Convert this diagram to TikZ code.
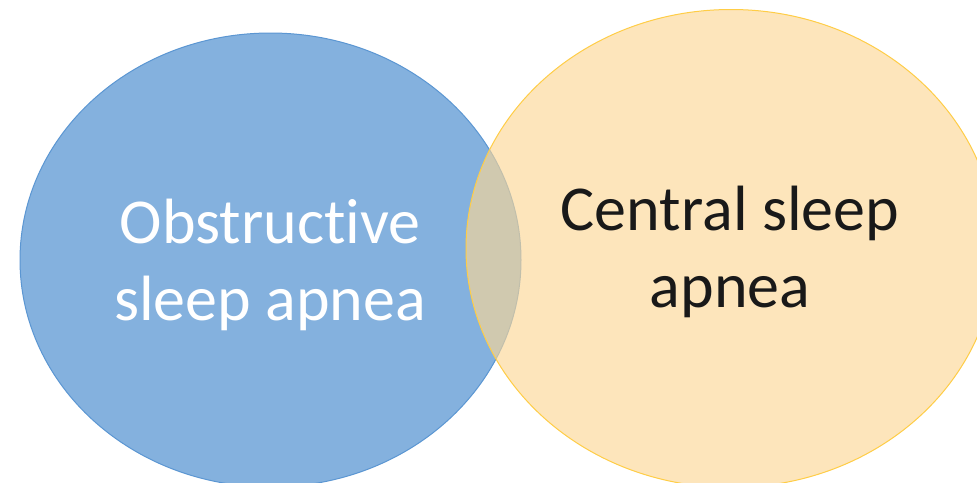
\documentclass[tikz,border=0pt]{standalone}
\usepackage{fontspec}
\setmainfont[Ligatures=NoCommon]{Carlito}
\usetikzlibrary{shapes.geometric}
\definecolor{bluefill}{RGB}{132,177,222}
\definecolor{blueline}{RGB}{91,150,210}
\definecolor{yelfill}{RGB}{252,215,150}
\definecolor{yelline}{RGB}{255,205,70}
\definecolor{darktext}{RGB}{25,25,25}
\tikzset{
  circ/.style={ellipse, inner sep=0pt, line width=1pt},
  lbl/.style={font=\fontsize{64}{77}\selectfont, anchor=base, inner sep=0pt},
}
\begin{document}
\begin{tikzpicture}[x=1pt,y=-1pt]
\useasboundingbox (0,0) rectangle (977,482);
\clip (0,0) rectangle (977,482);
\fill[white] (0,0) rectangle (977,482);
\node[circ, draw=blueline, fill=bluefill, minimum width=501pt, minimum height=454pt] (osa) at (270.5,260) {};
\node[circ, draw=yelline, fill=yelfill, fill opacity=0.64, minimum width=530pt, minimum height=478pt] (csa) at (731,248.5) {};
\node[lbl, text=white] (o1) at (270,243) {Obstructive};
\node[lbl, text=white] (o2) at (270,320) {sleep apnea};
\node[lbl, text=darktext] (c1) at (730,230) {Central sleep};
\node[lbl, text=darktext] (c2) at (730,307) {apnea};
\end{tikzpicture}
\end{document}
